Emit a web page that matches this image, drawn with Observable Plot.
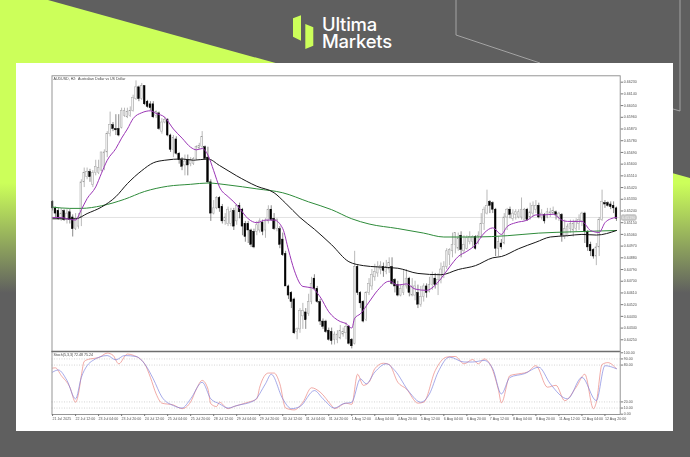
<!DOCTYPE html>
<html><head><meta charset="utf-8">
<script src="https://cdn.jsdelivr.net/npm/d3@7"></script>
<script src="https://cdn.jsdelivr.net/npm/@observablehq/plot@0.6"></script>
<style>
html,body{margin:0;padding:0;width:690px;height:457px;overflow:hidden;background:#5f5f5f;font-family:"Liberation Sans",Arial,sans-serif}
.abs{position:absolute}
#lime{left:0;top:0;width:690px;height:457px;background:linear-gradient(to bottom,#ccff5a 0,#ccff5a 183px,#5f5f5f 293px);clip-path:polygon(0 0,48px 0,690px 178px,690px 457px,0 457px)}
#deco{left:0;top:0}
#panel{left:16px;top:63px;width:657px;height:368px;background:#fff}
.logo{color:#fff;font-family:Inter,"Noto Sans",sans-serif;font-weight:500;font-size:18.4px;line-height:17px;letter-spacing:-.2px;left:322px}
#main,#osc{position:absolute;left:16px;filter:blur(.28px)}
#main{top:63px}#osc{top:350px}
svg{background:transparent!important}
</style></head><body>
<div id="lime" class="abs"></div>
<svg id="deco" class="abs" width="690" height="457">
<polyline points="456,0 456,35 540,63" fill="none" stroke="#b5b5b5" stroke-width=".8"/>
<polyline points="673,109 680,111 680,0" fill="none" stroke="#b5b5b5" stroke-width=".8"/>
<polygon points="293,18.3 301,15.3 301,40.7 293,36.7" fill="#ccff5a"/>
<polygon points="305.3,24 313.3,27.3 313.3,45.7 305.3,49" fill="#ccff5a"/>
</svg>
<div id="panel" class="abs"></div>
<div class="abs logo" style="top:15.5px">Ultima</div>
<div class="abs logo" style="top:33px">Markets</div>
<div id="main"></div><div id="osc"></div>
<script>
// Prices in pips (1 = 0.0001) per two-hour bar
const opens=[6531,6526,6524,6518,6524,6517,6523,6519,6510,6512,6519,6546,6550,6554,6544,6553,6553,6555,6558,6569,6583,6590,6587,6587,6588,6597,6596,6597,6601,6610,6619,6610,6620,6608,6606,6606,6597,6599,6585,6592,6594,6582,6571,6579,6568,6563,6559,6563,6560,6560,6564,6572,6573,6573,6565,6546,6522,6526,6534,6527,6516,6514,6514,6524,6516,6528,6525,6514,6514,6509,6508,6508,6509,6515,6509,6516,6525,6518,6510,6510,6502,6491,6466,6461,6456,6431,6433,6443,6446,6445,6454,6472,6464,6454,6439,6439,6432,6431,6425,6425,6426,6429,6430,6435,6425,6422,6481,6461,6454,6440,6461,6466,6473,6476,6479,6481,6477,6479,6481,6471,6467,6459,6461,6466,6472,6459,6459,6461,6452,6458,6466,6462,6467,6472,6467,6471,6475,6481,6490,6493,6498,6495,6505,6493,6495,6500,6500,6504,6499,6504,6514,6522,6531,6530,6525,6495,6499,6499,6519,6525,6518,6521,6519,6519,6517,6525,6519,6522,6525,6528,6519,6521,6519,6521,6522,6523,6519,6521,6504,6505,6510,6509,6510,6514,6516,6522,6508,6498,6494,6489,6496,6517,6530,6530,6529,6528,6526];
const closes=[6526,6522,6518,6522,6517,6522,6517,6510,6518,6519,6546,6553,6554,6550,6553,6558,6557,6569,6569,6583,6590,6587,6586,6582,6601,6601,6600,6601,6611,6619,6610,6620,6606,6604,6603,6596,6600,6587,6592,6594,6582,6571,6580,6568,6563,6558,6562,6559,6563,6564,6573,6574,6581,6564,6546,6522,6526,6534,6526,6516,6519,6525,6523,6512,6528,6523,6512,6504,6509,6498,6496,6513,6516,6508,6516,6525,6517,6510,6517,6498,6490,6466,6459,6454,6430,6433,6447,6447,6440,6454,6468,6464,6454,6439,6435,6431,6425,6424,6429,6429,6432,6431,6435,6422,6420,6481,6461,6453,6439,6461,6468,6475,6477,6481,6482,6478,6481,6484,6468,6466,6459,6464,6466,6472,6461,6466,6466,6452,6458,6466,6461,6467,6475,6467,6471,6479,6481,6493,6494,6498,6507,6503,6494,6498,6503,6504,6504,6495,6505,6514,6525,6528,6528,6525,6495,6500,6496,6519,6525,6521,6522,6523,6523,6525,6525,6517,6523,6528,6528,6519,6522,6516,6523,6523,6524,6521,6522,6505,6510,6512,6514,6514,6516,6517,6522,6508,6496,6493,6489,6496,6517,6531,6529,6528,6527,6526,6518];
const highs=[6532,6527,6526,6526,6525,6525,6525,6521,6522,6522,6548,6557,6557,6556,6555,6563,6563,6569,6571,6585,6600,6592,6598,6598,6603,6603,6603,6604,6613,6624,6620,6622,6620,6609,6608,6608,6601,6600,6595,6596,6595,6583,6582,6581,6569,6565,6567,6567,6565,6565,6574,6576,6585,6574,6573,6548,6532,6535,6535,6529,6522,6527,6526,6526,6529,6530,6526,6516,6516,6510,6510,6516,6518,6517,6518,6528,6528,6522,6518,6512,6507,6493,6467,6462,6457,6434,6449,6453,6449,6460,6473,6475,6466,6456,6441,6440,6434,6434,6431,6432,6436,6434,6438,6436,6426,6493,6482,6462,6455,6462,6472,6479,6483,6485,6485,6484,6486,6488,6488,6472,6470,6467,6479,6479,6473,6472,6470,6467,6466,6468,6468,6473,6477,6476,6476,6484,6485,6495,6495,6507,6507,6507,6508,6505,6505,6508,6505,6505,6508,6522,6527,6540,6532,6531,6526,6504,6502,6522,6526,6527,6525,6525,6525,6534,6526,6526,6530,6531,6532,6530,6525,6522,6526,6526,6527,6524,6523,6522,6517,6514,6517,6517,6518,6521,6523,6523,6509,6500,6495,6499,6519,6540,6532,6531,6531,6531,6527];
const lows=[6524,6519,6517,6516,6516,6514,6514,6504,6509,6510,6512,6542,6548,6546,6542,6551,6552,6554,6555,6565,6581,6585,6582,6581,6587,6596,6595,6596,6600,6609,6608,6609,6605,6603,6601,6595,6595,6586,6583,6591,6581,6569,6565,6567,6560,6555,6551,6551,6558,6559,6563,6571,6572,6563,6545,6516,6521,6525,6523,6514,6513,6512,6512,6509,6513,6518,6505,6500,6499,6496,6495,6505,6507,6505,6503,6514,6516,6509,6508,6495,6489,6466,6456,6449,6429,6425,6430,6433,6433,6443,6452,6463,6453,6436,6433,6430,6424,6421,6421,6422,6425,6427,6425,6421,6418,6421,6459,6449,6438,6439,6459,6463,6470,6473,6475,6473,6475,6476,6467,6461,6458,6458,6459,6464,6458,6458,6455,6449,6450,6454,6457,6461,6463,6464,6459,6468,6472,6479,6482,6488,6491,6493,6488,6491,6494,6498,6496,6494,6498,6503,6509,6521,6522,6522,6489,6489,6494,6498,6509,6518,6516,6517,6518,6517,6516,6516,6517,6519,6522,6518,6517,6514,6518,6519,6521,6517,6516,6500,6502,6504,6507,6504,6508,6509,6512,6499,6493,6489,6487,6482,6489,6516,6526,6527,6525,6522,6516];

// Moving averages, read at sampled bars: [bar], [pips]
const fastBars=[0,3,5,8,10,12,15,17,19,22,24,26,28,31,34,36,39,42,45,48,50,52,54,56,58,61,63,65,68,71,74,77,80,82,84,87,90,93,96,100,102,104,105,107,110,113,117,120,123,126,130,133,135,138,141,144,147,150,153,156,158,161,165,168,171,174,177,179,184,187,190,192,194,196];
const fastMA=[6519,6519,6518,6517,6525,6533.5,6542.5,6553,6563,6572,6580,6587,6595,6599.5,6601,6599,6596,6587,6580,6573,6571,6572,6567,6555,6542.5,6535,6531,6526,6518,6515,6517,6517,6510.5,6494,6478.5,6466,6465,6458,6446.5,6439,6437.5,6434,6441.5,6445,6454,6463,6470,6467,6468,6464,6463,6467,6472,6481,6489,6493,6498,6507,6511,6506,6512,6515,6517,6521,6521,6521.5,6517,6516,6516,6509,6507.5,6515,6518,6519];
const midBars=[0,8,12,17,22,26,31,35,39,45,49,54,58,64,71,77,81,86,91,97,103,108,113,120,127,135,141,147,153,156,162,168,173,179,184,189,196];
const midMA=[6518,6518,6522,6527,6535,6545,6555,6561,6563,6564,6563,6564,6559,6551,6543,6538,6530,6519,6510,6498,6485,6482,6481,6480,6476,6475,6479,6482,6488,6489,6495,6500,6504,6505,6506,6505.5,6509];
const slowBars=[0,6,10,17,25,32,40,48,54,61,71,80,89,97,104,110,120,129,136,147,158,169,181,196];
const slowMA=[6527,6526,6526,6528,6533,6539,6543,6544.5,6545.5,6544,6541,6538,6531,6525,6518,6514,6510.5,6507,6504,6504,6505,6507,6508,6509];

// Stochastic oscillator, read at sampled bars
const kBars=[0,1,3,6,8,9,10,11,13,16,19,21,23,26,28,32,34,36,38,42,45,48,50,52,54,55,57,58,61,63,68,71,72,75,77,79,81,84,87,90,93,97,98,102,104,106,108,110,112,115,117,120,123,127,129,133,137,140,143,146,148,150,152,155,156,159,161,165,168,172,175,178,182,185,188,189,191,193,196];
const kLine=[75,75.5,63,44,19.5,33,63,86,90,92,99.5,96,82,98,96,82,60,33,18,15,9,20,41,55,41,17,12.5,19.5,9,12.5,19.5,25,44,67,67,49.5,10,7,19.5,43,36,14,9,18,16,65,47,52,74,83,81,52,41,18,19.5,71,93,94,82,89,82,90,82,39,18.5,63,65,68.5,79,44,47,22,44,65,9,19.5,81,84,74];
const dBars=[0,2,5,8,10,12,14,19,22,25,29,32,35,38,42,45,48,52,55,58,61,64,70,74,76,80,83,86,91,94,98,101,104,107,109,112,116,119,124,128,131,134,138,143,146,150,153,156,159,164,169,173,179,184,189,192,196];
const dLine=[68.5,72,55,25,60,79,87.5,95.5,88.5,95.5,94,82,57.5,28,14,10,25,52,25,17,10,14,22,49.5,65,25,9,12.5,38.5,25,10,17,19.5,57.5,49.5,68.5,82,71,36,19.5,33,68.5,93,85,85,87.5,74,33,60,66,76.5,49.5,25,60,22,79,74];

const priceTicks=[0.66230,0.66140,0.66050,0.65960,0.65870,0.65780,0.65690,0.65600,0.65510,0.65420,0.65330,0.65240,0.65150,0.65060,0.64970,0.64880,0.64790,0.64700,0.64610,0.64520,0.64430,0.64340,0.64250];
const lastPrice=0.65190;
const oscTicks=[100,90,80,20,10,0];
const oscLevels=[90,80,20,10];
const dateLabels=["21 Jul 2025","22 Jul 12:00","23 Jul 04:00","23 Jul 20:00","24 Jul 12:00","25 Jul 04:00","25 Jul 20:00","28 Jul 12:00","29 Jul 04:00","29 Jul 20:00","30 Jul 12:00","31 Jul 04:00","31 Jul 20:00","1 Aug 12:00","4 Aug 04:00","4 Aug 20:00","5 Aug 12:00","6 Aug 04:00","6 Aug 20:00","7 Aug 12:00","8 Aug 04:00","8 Aug 20:00","11 Aug 12:00","12 Aug 04:00","12 Aug 20:00"];
const barsPerLabel=8;

const price=p=>p/10000;
const bars=opens.map((o,i)=>({i,o:price(o),c:price(closes[i]),h:price(highs[i]),l:price(lows[i]),up:closes[i]>=o}));
const zip=(xs,ys,f=d=>d)=>xs.map((x,k)=>({x,y:f(ys[k])}));
const xDomain=[-0.2,197.3];
const common={width:657,marginLeft:35.5,marginRight:53.3,style:{fontFamily:'"Liberation Sans",Arial,sans-serif',background:"transparent",overflow:"visible"}};
const maLine=(xs,ys,stroke,w)=>Plot.line(zip(xs,ys,price),{x:"x",y:"y",stroke,strokeWidth:w,curve:"monotone-x"});

document.getElementById("main").append(Plot.plot({...common,height:290,marginTop:12.3,marginBottom:2,
  x:{domain:xDomain,axis:null,label:null},
  y:{domain:[0.64160,0.66279],axis:null,label:null},
  marks:[
    Plot.ruleY([lastPrice],{stroke:"#dcdcdc",strokeWidth:.8}),
    Plot.ruleX(bars,{x:"i",y1:"l",y2:"h",stroke:d=>d.up?"#9a9a9a":"#555",strokeWidth:.7}),
    Plot.rect(bars,{x1:d=>d.i-.3,x2:d=>d.i+.3,y1:"o",y2:"c",fill:d=>d.up?"#f4f4f4":"#000",stroke:d=>d.up?"#9a9a9a":"#000",strokeWidth:.45}),
    maLine(slowBars,slowMA,"#2e8b3a",1),
    maLine(midBars,midMA,"#161616",1),
    maLine(fastBars,fastMA,"#9a35b5",1),
    Plot.frame({stroke:"#8a8a8a",strokeWidth:.9}),
    Plot.axisY({anchor:"right",label:null,ticks:priceTicks,tickFormat:d=>d.toFixed(5),tickSize:2.5,tickPadding:1,fontSize:3.6,stroke:"#777",fill:"#555"}),
    Plot.text([lastPrice.toFixed(5)],{frameAnchor:"right",y:[lastPrice],dx:15,fontSize:3.6,fill:"#f4f4f4",stroke:"#c4c4c4",strokeWidth:3.5,paintOrder:"stroke"}),
    Plot.text(["AUDUSD, H2:  Australian Dollar vs US Dollar"],{frameAnchor:"top-left",dx:1.5,dy:1.5,fontSize:3.6,fill:"#444"})
  ]}));

document.getElementById("osc").append(Plot.plot({...common,height:75,marginTop:1,marginBottom:11,
  x:{domain:xDomain,axis:null,label:null},
  y:{domain:[-0.5,102.1],axis:null,label:null},
  marks:[
    Plot.ruleY(oscLevels,{stroke:"#aaa",strokeWidth:.5,strokeDasharray:"1,1.5"}),
    Plot.line(zip(kBars,kLine),{x:"x",y:"y",stroke:"#ea7d77",strokeWidth:.65,curve:"monotone-x"}),
    Plot.line(zip(dBars,dLine),{x:"x",y:"y",stroke:"#777ddd",strokeWidth:.65,curve:"monotone-x"}),
    Plot.frame({stroke:"#8a8a8a",strokeWidth:.9}),
    Plot.ruleY([102.1],{stroke:"#6e6e6e",strokeWidth:1.4}),
    Plot.axisY({anchor:"right",label:null,ticks:oscTicks,tickFormat:d=>d.toFixed(2),tickSize:2.5,tickPadding:1,fontSize:3.6,stroke:"#777",fill:"#555"}),
    Plot.axisX({anchor:"bottom",label:null,ticks:dateLabels.map((_,k)=>k*barsPerLabel),tickFormat:d=>dateLabels[d/barsPerLabel],tickSize:2,tickPadding:.5,fontSize:3.6,textAnchor:"start",stroke:"#777",fill:"#555"}),
    Plot.text(["Stoch(5,3,3) 72.48 75.24"],{frameAnchor:"top-left",dx:1.5,dy:2,fontSize:3.6,fill:"#444"})
  ]}));
</script></body></html>
